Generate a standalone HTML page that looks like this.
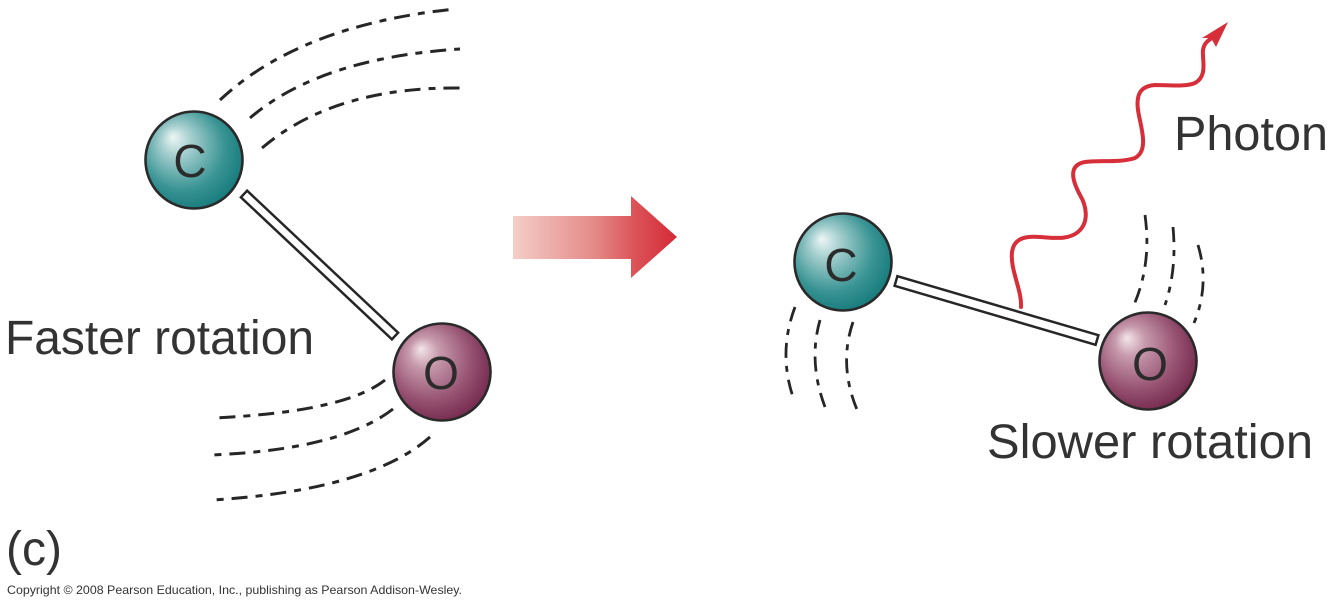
<!DOCTYPE html>
<html>
<head>
<meta charset="utf-8">
<style>
  html,body{margin:0;padding:0;background:#fff;}
  svg{display:block;}
  text{font-family:"Liberation Sans", Arial, sans-serif;}
</style>
</head>
<body>
<svg width="1335" height="607" viewBox="0 0 1335 607" xmlns="http://www.w3.org/2000/svg">
  <defs>
    <radialGradient id="teal" cx="0.42" cy="0.42" r="0.62" fx="0.28" fy="0.26">
      <stop offset="0" stop-color="#eef6f6"/>
      <stop offset="0.25" stop-color="#a6cfcf"/>
      <stop offset="0.7" stop-color="#3a9494"/>
      <stop offset="1" stop-color="#157a7b"/>
    </radialGradient>
    <radialGradient id="plum" cx="0.42" cy="0.42" r="0.62" fx="0.28" fy="0.26">
      <stop offset="0" stop-color="#f3e6ea"/>
      <stop offset="0.25" stop-color="#c79aac"/>
      <stop offset="0.7" stop-color="#955070"/>
      <stop offset="1" stop-color="#74294d"/>
    </radialGradient>
    <linearGradient id="arrowg" x1="513" y1="0" x2="677" y2="0" gradientUnits="userSpaceOnUse">
      <stop offset="0" stop-color="#f4cdc7"/>
      <stop offset="0.5" stop-color="#e48a88"/>
      <stop offset="0.75" stop-color="#db5257"/>
      <stop offset="1" stop-color="#d42a36"/>
    </linearGradient>
  </defs>

  <g fill="none" stroke="#262626" stroke-width="3" stroke-dasharray="16 8 7 8">
    <path d="M220,100 Q300,25 455,9"/>
    <path d="M250,118 Q320,58 460,49"/>
    <path d="M262,148 Q335,86 463,88"/>
    <path d="M385,380 Q345,412 213,418"/>
    <path d="M393,409 Q340,450 210,455"/>
    <path d="M430,437 Q370,490 213,500"/>
  </g>
  <g fill="none" stroke="#262626" stroke-width="2.8" stroke-dasharray="15 8 6 8">
    <path d="M795,307 Q778,352 793,397"/>
    <path d="M820,320 Q808,362 825,407"/>
    <path d="M853,322 Q838,366 858,412"/>
    <path d="M1145,215 Q1152,265 1133,307"/>
    <path d="M1173,227 Q1177,270 1165,305"/>
    <path d="M1198,245 Q1210,285 1194,323"/>
  </g>

  <polygon points="247.1,190.7 240.9,197.3 391.9,339.3 398.1,332.7" fill="#fff" stroke="#262626" stroke-width="2.5"/>
  <polygon points="897.4,276.2 894.6,285.8 1095.6,344.8 1098.4,335.2" fill="#fff" stroke="#262626" stroke-width="2.5"/>

  <circle cx="194" cy="160" r="48.5" fill="url(#teal)" stroke="#2a2a2a" stroke-width="2.6"/>
  <circle cx="442" cy="372" r="48.5" fill="url(#plum)" stroke="#2a2a2a" stroke-width="2.6"/>
  <circle cx="843" cy="262" r="48.5" fill="url(#teal)" stroke="#2a2a2a" stroke-width="2.6"/>
  <circle cx="1148" cy="361" r="48.5" fill="url(#plum)" stroke="#2a2a2a" stroke-width="2.6"/>

  <g fill="#2b2b2b" font-size="46" text-anchor="middle">
    <text x="190" y="177">C</text>
    <text x="441" y="389">O</text>
    <text x="841" y="281">C</text>
    <text x="1150" y="380">O</text>
  </g>

  <polygon points="513,216 631,216 631,196 677,237 631,278 631,259 513,259" fill="url(#arrowg)"/>

  <path d="M1021,307 C1022,290 1010,270 1012,252 C1014,238 1025,236 1040,237 C1055,238 1068,240 1078,232 C1090,222 1086,205 1080,195 C1072,180 1068,165 1085,162 C1100,160 1120,163 1135,158 C1150,150 1140,125 1138,110 C1136,95 1140,86 1155,85 C1170,85 1185,87 1195,83 C1208,76 1202,60 1203,50 C1204,44 1207,41 1212,38" fill="none" stroke="#d62f3a" stroke-width="4" stroke-linecap="round"/>
  <polygon points="1228,22 1202,38 1211,38 1216,47" fill="#d62f3a"/>

  <g fill="#333">
    <text x="5" y="354" font-size="48" textLength="309" lengthAdjust="spacingAndGlyphs">Faster rotation</text>
    <text x="987" y="458" font-size="48" textLength="326" lengthAdjust="spacingAndGlyphs">Slower rotation</text>
    <text x="1174" y="150" font-size="48" textLength="154" lengthAdjust="spacingAndGlyphs">Photon</text>
    <text x="6" y="565" font-size="48">(c)</text>
    <text x="7" y="594" font-size="12" textLength="455" lengthAdjust="spacingAndGlyphs">Copyright © 2008 Pearson Education, Inc., publishing as Pearson Addison-Wesley.</text>
  </g>
</svg>
</body>
</html>
